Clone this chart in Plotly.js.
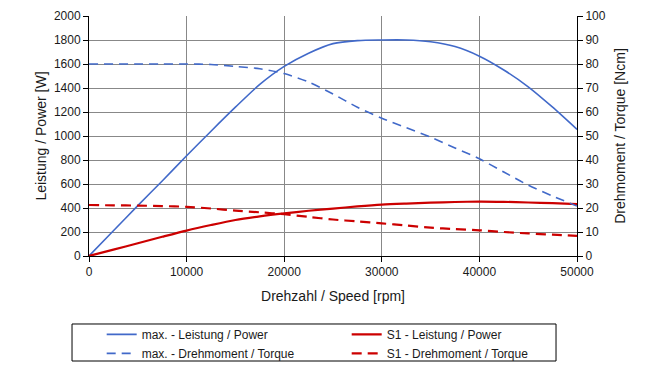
<!DOCTYPE html>
<html>
<head>
<meta charset="utf-8">
<script src="https://cdn.plot.ly/plotly-3.0.1.min.js"></script>
<style>html,body{margin:0;padding:0;background:#fff;}#chart{width:664px;height:380px;}</style>
</head>
<body>
<div id="chart"></div>
<script>
// Speed [rpm]
const rpm = [0, 2500, 5000, 7500, 10000, 12500, 15000, 17500, 20000, 22500, 25000,
             27500, 30000, 32500, 35000, 37500, 40000, 42500, 45000, 47500, 50000];
// max. - Leistung / Power [W]
const maxPower = [0, 210, 420, 625, 835, 1040, 1240, 1430, 1580, 1690, 1770,
                  1795, 1800, 1800, 1785, 1745, 1665, 1550, 1410, 1240, 1055];
// max. - Drehmoment / Torque [Ncm]
const maxTorque = [80, 80, 80, 80, 80, 79.8, 79, 78, 76, 72.5, 67.5,
                   62, 57.4, 53.5, 49.5, 45, 40.5, 35, 29.5, 25, 20.8];
// S1 - Leistung / Power [W]
const s1Power = [0, 53, 106, 160, 212, 258, 300, 330, 355, 377, 395,
                 413, 428, 437, 444, 450, 453, 451, 446, 440, 433];
// S1 - Drehmoment / Torque [Ncm]
const s1Torque = [21.25, 21.1, 21, 20.8, 20.5, 19.8, 18.9, 18.2, 17.4, 16.3, 15.2,
                  14.4, 13.6, 12.7, 11.8, 11.2, 10.7, 10, 9.4, 8.9, 8.4];

const names = ["max. - Leistung / Power", "S1 - Leistung / Power",
               "max. - Drehmoment / Torque", "S1 - Drehmoment / Torque"];
const xTitle = "Drehzahl / Speed [rpm]";
const yTitle = "Leistung / Power [W]";
const y2Title = "Drehmoment / Torque [Ncm]";

const BLUE = "#4169c9", RED = "#cc0000";
const FONT = "Liberation Sans, Arial, sans-serif";

const traces = [
  {x: rpm, y: maxPower, name: names[0], mode: "lines", yaxis: "y",
   line: {color: BLUE, width: 1.6, shape: "spline", smoothing: 0.8}},
  {x: rpm, y: s1Power, name: names[1], mode: "lines", yaxis: "y",
   line: {color: RED, width: 2.2, shape: "spline", smoothing: 0.8}},
  {x: rpm, y: maxTorque, name: names[2], mode: "lines", yaxis: "y2",
   line: {color: BLUE, width: 1.6, dash: "9px,6px", shape: "spline", smoothing: 0.8}},
  {x: rpm, y: s1Torque, name: names[3], mode: "lines", yaxis: "y2",
   line: {color: RED, width: 2.2, dash: "10px,6px", shape: "spline", smoothing: 0.8}}
];

const layout = {
  width: 664, height: 380,
  margin: {l: 89, r: 87, t: 16, b: 124},
  paper_bgcolor: "#fff", plot_bgcolor: "#fff",
  font: {family: FONT, size: 12, color: "#1a1a1a"},
  showlegend: true,
  xaxis: {
    range: [0, 50000], dtick: 10000, tick0: 0, tickformat: "d",
    showgrid: true, gridcolor: "#888", gridwidth: 1,
    showline: true, linecolor: "#000", linewidth: 1,
    ticks: "outside", ticklen: 5, tickcolor: "#000",
    zeroline: false,
    tickfont: {family: FONT, size: 12, color: "#1a1a1a"},
    title: {text: xTitle, font: {family: FONT, size: 14, color: "#1a1a1a"}, standoff: 12}
  },
  yaxis: {
    range: [0, 2000], dtick: 200, tick0: 0, tickformat: "d",
    showgrid: true, gridcolor: "#888", gridwidth: 1,
    showline: true, linecolor: "#000", linewidth: 1,
    ticks: "outside", ticklen: 5, tickcolor: "#000",
    zeroline: false,
    tickfont: {family: FONT, size: 12, color: "#1a1a1a"},
    title: {text: yTitle, font: {family: FONT, size: 14, color: "#1a1a1a"}, standoff: 3}
  },
  yaxis2: {
    range: [0, 100], dtick: 10, tick0: 0,
    overlaying: "y", side: "right",
    showgrid: false,
    showline: true, linecolor: "#000", linewidth: 1,
    ticks: "outside", ticklen: 5, tickcolor: "#000",
    zeroline: false,
    tickfont: {family: FONT, size: 12, color: "#1a1a1a"},
    title: {text: y2Title, font: {family: FONT, size: 14, color: "#1a1a1a"}, standoff: 10}
  },
  legend: {
    orientation: "h",
    x: 0.026, xanchor: "left",
    y: -0.266, yanchor: "top",
    entrywidth: 200, entrywidthmode: "pixels",
    traceorder: "normal",
    font: {family: FONT, size: 12, color: "#1a1a1a"},
    bgcolor: "rgba(0,0,0,0)", borderwidth: 0,
    tracegroupgap: 0
  },
  shapes: [
    {type: "rect", xref: "paper", yref: "paper",
     x0: -0.0348, x1: 0.957, y0: -0.4375, y1: -0.2833,
     line: {color: "#000", width: 1}, fillcolor: "rgba(0,0,0,0)"}
  ]
};

Plotly.newPlot("chart", traces, layout, {displayModeBar: false, staticPlot: true});
</script>
</body>
</html>
